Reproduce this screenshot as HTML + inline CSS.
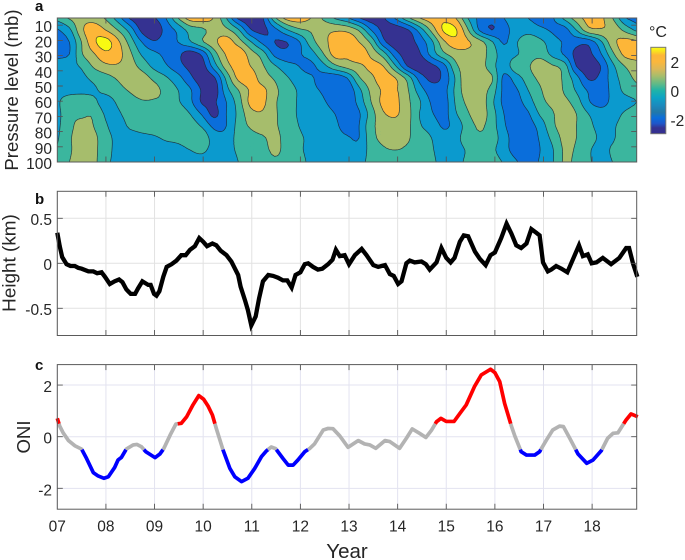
<!DOCTYPE html>
<html>
<head>
<meta charset="utf-8">
<style>
html,body{margin:0;padding:0;background:#fff;}
svg{display:block;font-family:"Liberation Sans",Arial,sans-serif;}
</style>
</head>
<body>
<svg id="figure" width="685" height="560" viewBox="0 0 685 560" xmlns="http://www.w3.org/2000/svg">
<defs>
<clipPath id="field-clip"><rect x="57.3" y="18" width="579.4" height="144"/></clipPath>
<linearGradient id="cbar-gradient" x1="0" y1="1" x2="0" y2="0"></linearGradient>
</defs>
<text x="35" y="11" font-size="15" font-weight="bold" fill="#111">a</text>
<text x="35" y="204" font-size="15" font-weight="bold" fill="#111">b</text>
<text x="35" y="370" font-size="15" font-weight="bold" fill="#111">c</text>
<text transform="translate(18,90) rotate(-90)" text-anchor="middle" font-size="18.6" fill="#262626">Pressure level (mb)</text>
<text transform="translate(15.5,263) rotate(-90)" text-anchor="middle" font-size="18.9" fill="#262626">Height (km)</text>
<text transform="translate(30,437) rotate(-90)" text-anchor="middle" font-size="18.6" fill="#262626">ONI</text>
<text x="347" y="558" text-anchor="middle" font-size="20.5" fill="#262626">Year</text>
<text x="649" y="37" font-size="16" fill="#262626">°C</text>
</svg>
<script>
// ---------- Chart data ----------
const yearTicks = [0,1,2,3,4,5,6,7,8,9,10,11];
const yearTickLabels = ['07','08','09','10','11','12','13','14','15','16','17','18'];
const pressureTicks = [10,20,30,40,50,60,70,80,90,100];
const heightTicks = [0.5,0,-0.5];
const heightTickLabels = ['0.5','0','-0.5'];
const oniTicks = [2,0,-2];
const oniTickLabels = ['2','0','-2'];
const colorbarTicks = [2,0,-2];
const colorbarTickLabels = ['2','0','-2'];

const contourLevels = [-2.0,-1.2,-0.4,0.4,1.2,2.0];
const bandColors = ['#353291','#0a6edb','#0b9ace','#3bb69e','#a6bd6c','#fdb638','#f8fa12'];
const colorbarValues = [-3,-2.6,-2.3,-1.9,-1.5,-1,-0.5,0,0.5,1,1.5,2,2.45,2.75,3];
const colorbarColors = ['#352f91','#353391','#1f55c8','#0a6edb','#2278a8','#1a8bbf','#0ca3c5','#1fb3a8','#65ba85','#a6bd6c','#dcb858','#fbb73c','#fdb638','#f9e51c','#f9fb15'];

// Temperature anomaly field, tenths of a degree C. One row per pressure, 49 columns over the time axis.
const fieldPressures = [5.3,13.2,21.1,29,36.9,44.7,52.6,60.5,68.4,76.3,84.2,92.1,100];
const fieldTenths = [
[-1,5,9,8,3,-8,-21,-26,-21,-12,4,16,17,11,-4,-22,-26,-21,2,15,17,12,3,-5,-11,-20,-25,-21,-11,2,12,17,18,12,-4,-14,-17,-12,-8,-12,-16,-13,-2,8,15,14,4,-11,-16],
[-13,-6,10,17,12,4,-7,-22,-26,-17,-10,-1,2,8,6,-3,-19,-22,-15,-5,2,5,9,11,10,3,-12,-22,-25,-21,-9,6,21,21,5,-13,-20,-15,-9,-7,-10,-13,-15,-4,9,11,10,2,-6],
[-15,-12,4,18,23,14,1,-12,-19,-15,-12,-5,3,10,16,8,-3,-14,-20,-20,-13,0,9,15,17,12,2,-17,-25,-24,-17,-6,10,17,13,7,-3,-13,-5,1,-2,-8,-13,-17,-17,-6,9,15,14],
[-14,-12,3,11,18,15,6,-5,-10,-14,-18,-24,-18,0,13,18,8,0,-14,-17,-13,-8,3,15,14,17,10,0,-16,-24,-21,-9,2,8,10,8,0,-8,-5,0,1,-6,-13,-22,-22,-13,2,14,15],
[-9,-6,-3,5,10,11,8,1,-6,-11,-17,-22,-23,-8,8,16,12,5,-3,-9,-12,-14,-7,2,7,10,14,12,-3,-20,-25,-22,-15,2,8,8,-1,-8,1,3,9,5,0,-20,-24,-20,-6,4,9],
[-9,-8,-6,-2,1,5,9,8,2,-3,-9,-18,-24,-21,-2,14,16,8,3,-3,-8,-11,-15,-17,-12,3,10,16,12,1,-15,-22,-18,-3,11,9,5,-14,-8,0,6,9,2,-9,-21,-18,-8,0,6],
[-8,-8,-7,-5,-2,1,5,9,7,1,-4,-11,-21,-24,-7,4,13,14,6,0,-5,-10,-13,-17,-18,-6,6,13,13,5,-8,-16,-15,-2,9,8,1,-14,-13,-4,3,9,3,-5,-13,-15,-10,-2,1],
[-6,2,3,-2,-7,-3,0,3,3,2,-3,-10,-21,-21,-12,0,14,14,5,1,-5,-8,-11,-15,-18,-9,4,14,14,6,-3,-13,-16,-3,6,9,-2,-14,-15,-8,1,6,6,0,-11,-15,-10,-7,-4],
[-7,2,3,3,-5,-5,-1,1,2,2,1,-4,-13,-22,-12,-2,9,11,5,1,-5,-7,-9,-12,-17,-13,0,11,13,7,-4,-11,-15,-5,3,8,0,-12,-16,-13,-3,3,8,4,-4,-8,-7,-3,1],
[-6,2,6,4,-3,-7,-3,-1,0,0,1,0,-5,-14,-12,-1,5,8,5,1,-4,-6,-8,-10,-16,-12,2,6,9,6,-3,-7,-13,-9,0,5,0,-11,-15,-15,-9,2,7,4,-2,-6,-5,-1,2],
[-5,3,7,6,-1,-6,-7,-6,-5,-3,-2,0,1,-8,-9,-1,1,3,6,1,-3,-5,-6,-8,-11,-12,1,6,8,5,0,-4,-9,-7,1,3,1,-9,-15,-16,-11,-2,6,4,-1,-5,-5,1,3],
[-3,3,7,6,-1,-6,-7,-7,-7,-7,-6,-4,-3,-6,-6,-3,0,2,5,2,-3,-5,-6,-8,-9,-9,-1,3,4,3,1,-3,-8,-7,-3,1,-2,-9,-15,-17,-12,-5,5,3,-3,-6,-3,2,3],
[-2,4,7,6,-2,-6,-7,-7,-7,-7,-6,-6,-6,-7,-7,-4,-1,1,3,2,-2,-5,-6,-7,-8,-7,-1,2,3,3,1,-2,-7,-7,-2,1,1,-5,-11,-16,-11,-5,5,2,-3,-6,-4,1,3]
];

const heightYears = [0,.05,.10,.19,.27,.36,.43,.50,.64,.74,.82,.91,.98,1.08,1.18,1.27,1.34,1.42,1.51,1.60,1.66,1.75,1.87,1.92,1.99,2.04,2.10,2.18,2.25,2.35,2.45,2.55,2.64,2.73,2.83,2.92,3.00,3.08,3.19,3.27,3.36,3.48,3.58,3.72,3.77,3.86,3.92,3.99,4.08,4.15,4.23,4.34,4.44,4.54,4.64,4.73,4.82,4.90,5.00,5.09,5.16,5.26,5.36,5.45,5.57,5.66,5.73,5.81,5.91,6.00,6.12,6.26,6.36,6.50,6.60,6.74,6.84,6.92,7.01,7.08,7.18,7.25,7.35,7.49,7.58,7.66,7.80,7.90,8.00,8.09,8.17,8.28,8.36,8.45,8.59,8.69,8.81,8.91,9.00,9.13,9.24,9.34,9.44,9.54,9.65,9.75,9.85,9.92,9.99,10.09,10.16,10.26,10.37,10.49,10.57,10.73,10.81,10.91,10.99,11.09,11.22,11.39,11.56,11.70,11.76,11.84,11.93];
const heightKm = [.34,.19,.07,-.01,-.03,-.03,-.05,-.06,-.09,-.09,-.11,-.10,-.15,-.23,-.20,-.18,-.21,-.29,-.34,-.34,-.28,-.20,-.24,-.24,-.34,-.36,-.31,-.15,-.04,-.01,.03,.09,.09,.15,.19,.28,.24,.19,.22,.20,.14,.09,.02,-.13,-.26,-.41,-.52,-.69,-.59,-.39,-.20,-.13,-.14,-.16,-.19,-.19,-.27,-.13,-.10,-.01,0,-.04,-.07,-.06,-.01,.04,.15,.08,.09,-.01,.09,.16,.09,-.02,-.04,-.02,-.12,-.14,-.23,-.20,0,.03,.01,.02,-.01,-.07,.01,.17,.06,.01,.06,.24,.31,.30,.13,.05,-.02,.09,.12,.28,.44,.33,.20,.17,.22,.38,.34,.31,.01,-.09,-.07,-.03,-.06,-.10,0,.20,.08,.10,0,.01,.06,-.01,.06,.17,.17,0,-.15];

const oniYears = [0,.05,.12,.23,.36,.50,.59,.74,.84,.96,1.05,1.18,1.25,1.32,1.42,1.56,1.64,1.73,1.82,2.01,2.11,2.19,2.32,2.44,2.55,2.66,2.79,2.91,3.01,3.10,3.19,3.27,3.41,3.55,3.65,3.79,3.92,4.06,4.20,4.30,4.40,4.49,4.64,4.75,4.85,4.95,5.09,5.19,5.29,5.47,5.57,5.67,5.81,5.98,6.19,6.32,6.43,6.55,6.74,6.84,7.04,7.18,7.30,7.45,7.58,7.70,7.80,7.89,8.00,8.16,8.28,8.41,8.58,8.72,8.91,9.00,9.10,9.20,9.34,9.41,9.54,9.65,9.82,9.92,10.06,10.19,10.33,10.41,10.54,10.71,10.89,11.02,11.19,11.32,11.43,11.53,11.70,11.80,11.94];
const oniValues = [.71,.41,.15,-.15,-.35,-.48,-.80,-1.39,-1.52,-1.61,-1.55,-1.19,-.90,-.80,-.48,-.32,-.30,-.39,-.58,-.81,-.67,-.46,.06,.49,.52,.77,1.23,1.59,1.45,1.19,.84,.32,-.52,-1.23,-1.55,-1.74,-1.61,-1.23,-.77,-.55,-.40,-.46,-.84,-1.10,-1.10,-.90,-.58,-.46,-.28,.26,.32,.31,.03,-.41,-.15,-.28,-.32,-.45,-.15,-.19,-.45,-.06,.30,.13,-.03,.26,.58,.71,.59,.59,.90,1.23,1.94,2.39,2.61,2.48,2.13,1.29,.41,.03,-.58,-.71,-.71,-.58,-.13,.26,.41,.39,-.06,-.67,-1.03,-.90,-.54,-.06,.13,.15,.65,.88,.77];
const oniThreshold = 0.5;
const timeSpanYears = 11.917;

// ---------- Axis functions ----------
const plotLeft = 57.3, plotWidth = 579.4, plotRight = plotLeft + plotWidth;
function xYear(t){ return plotLeft + t / timeSpanYears * plotWidth; }
function yPressure(p){ return 162 - (100 - p) * 1.52; }
function yHeight(v){ return 263.3 - v * 90; }
function yOni(v){ return 436.7 - v * 25.83; }
function yColorbar(v){ return 90.5 - v * 14.4; }

// ---------- Helpers ----------
const NS = 'http://www.w3.org/2000/svg';
const fig = document.getElementById('figure');
function mk(tag, attrs, parent, text){
  const e = document.createElementNS(NS, tag);
  for (const k in attrs) e.setAttribute(k, attrs[k]);
  if (text !== undefined) e.textContent = text;
  (parent || fig).appendChild(e);
  return e;
}
const f2 = n => n.toFixed(2);

// ---------- Panel a: contour field ----------
function catmull(p0,p1,p2,p3,t){
  return 0.5*((2*p1)+(-p0+p2)*t+(2*p0-5*p1+4*p2-p3)*t*t+(-p0+3*p1-3*p2+p3)*t*t*t);
}
function upsample(arr, factor){
  const out = [], n = arr.length;
  for (let i = 0; i < n-1; i++){
    const a = arr[Math.max(i-1,0)], b = arr[i], c = arr[i+1], d = arr[Math.min(i+2,n-1)];
    for (let s = 0; s < factor; s++) out.push(catmull(a,b,c,d,s/factor));
  }
  out.push(arr[n-1]);
  return out;
}
function refineField(rows, factor){
  const xRows = rows.map(r => upsample(r.map(v => v/10), factor));
  const nCols = xRows[0].length, columns = [];
  for (let c = 0; c < nCols; c++) columns.push(upsample(xRows.map(r => r[c]), factor));
  const res = [];
  for (let r = 0; r < columns[0].length; r++) res.push(columns.map(col => col[r]));
  return res;
}
const refineFactor = 4;
const fineField = refineField(fieldTenths, refineFactor);
const fineXs = upsample(fieldTenths[0].map((_, i) => xYear(i / (fieldTenths[0].length - 1) * timeSpanYears)), refineFactor);
const fineYs = upsample(fieldPressures.map(yPressure), refineFactor);

function clipTriangle(tri, level){
  const poly = [];
  for (let i = 0; i < 3; i++){
    const a = tri[i], b = tri[(i+1)%3];
    if (a[2] >= level) poly.push(a);
    if ((a[2] >= level) !== (b[2] >= level)){
      const f = (level - a[2]) / (b[2] - a[2]);
      poly.push([a[0]+(b[0]-a[0])*f, a[1]+(b[1]-a[1])*f, level]);
    }
  }
  return poly;
}
function contourSegments(tri, level){
  const pts = [];
  for (let i = 0; i < 3; i++){
    const a = tri[i], b = tri[(i+1)%3];
    if ((a[2] >= level) !== (b[2] >= level)){
      const f = (level - a[2]) / (b[2] - a[2]);
      pts.push([a[0]+(b[0]-a[0])*f, a[1]+(b[1]-a[1])*f]);
    }
  }
  return pts.length === 2 ? 'M'+f2(pts[0][0])+' '+f2(pts[0][1])+'L'+f2(pts[1][0])+' '+f2(pts[1][1]) : '';
}
const fieldGroup = mk('g', {'clip-path':'url(#field-clip)'});


const baseBand = mk('rect', {x:plotLeft, y:18, width:plotWidth, height:144, fill:bandColors[0]}, fieldGroup);


contourLevels.forEach(function(level, li){
  let d = '', lines = '';
  for (let r = 0; r < fineField.length-1; r++){
    for (let c = 0; c < fineField[0].length-1; c++){
      const A = [fineXs[c],fineYs[r],fineField[r][c]];
      const B = [fineXs[c+1],fineYs[r],fineField[r][c+1]];
      const C = [fineXs[c+1],fineYs[r+1],fineField[r+1][c+1]];
      const D = [fineXs[c],fineYs[r+1],fineField[r+1][c]];
      [[A,B,C],[A,C,D]].forEach(function(tri){
        const poly = clipTriangle(tri, level);
        if (poly.length >= 3){
          d += 'M' + poly.map(p => f2(p[0])+' '+f2(p[1])).join('L') + 'Z';
        }
        lines += contourSegments(tri, level);
      });
    }
  }
  const band = mk('path', {d:d, fill:bandColors[li+1]}, fieldGroup);
  
  
  band.dataset.line = lines;
});
Array.from(fieldGroup.querySelectorAll('path')).forEach(function(band){
  const line = mk('path', {d:band.dataset.line, fill:'none', stroke:'#1c2430', 'stroke-width':0.7, 'stroke-opacity':0.85}, fieldGroup);
  
  
  delete band.dataset.line;
});

// ---------- Axes, grids and ticks ----------
function drawGrid(name, top, bottom, yTickPositions, gridColor){
  const g = mk('g', {});
  
  
  yearTicks.forEach(function(t){
    const l = mk('line', {x1:xYear(t), x2:xYear(t), y1:top, y2:bottom, stroke:gridColor, 'stroke-width':1}, g);
    
    
  });
  yTickPositions.forEach(function(y){
    const l = mk('line', {x1:plotLeft, x2:plotRight, y1:y, y2:y, stroke:gridColor, 'stroke-width':1}, g);
    
    
  });
}
function drawFrame(name, top, bottom, yTickPositions, yLabels, labelShift){
  const g = mk('g', {});
  
  
  const tickLen = 5.5;
  let d = '';
  yearTicks.forEach(function(t){
    const x = f2(xYear(t));
    if (t > 0) d += 'M'+x+' '+top+'V'+(top+tickLen)+'M'+x+' '+bottom+'V'+(bottom-tickLen);
  });
  yTickPositions.forEach(function(y){
    d += 'M'+plotLeft+' '+f2(y)+'H'+(plotLeft+tickLen)+'M'+plotRight+' '+f2(y)+'H'+(plotRight-tickLen);
  });
  const ticks = mk('path', {d:d, fill:'none', stroke:'#555', 'stroke-width':0.9}, g);
  
  
  const box = mk('rect', {x:plotLeft, y:top, width:plotWidth, height:bottom-top, fill:'none', stroke:'#5a5a5a', 'stroke-width':1}, g);
  
  
  yLabels.forEach(function(lab, i){
    const tx = mk('text', {x:52, y:yTickPositions[i]+labelShift, 'text-anchor':'end', 'font-size':15.5, fill:'#262626'}, g, lab);
    
    
  });
}

drawGrid('panel-b', 191.3, 335.5, heightTicks.map(yHeight), '#e2e2e2');
drawGrid('panel-c', 364.6, 509.2, oniTicks.map(yOni), '#e3e3f0');

// ---------- Panel b line ----------
const heightLine = mk('polyline', {
  points: heightYears.map((t,i) => f2(xYear(t))+','+f2(yHeight(heightKm[i]))).join(' '),
  fill:'none', stroke:'#000', 'stroke-width':4.3, 'stroke-linejoin':'miter', 'stroke-miterlimit':4
});



// ---------- Panel c ONI segments ----------
function oniClass(v){ return v >= oniThreshold ? 'warm' : (v <= -oniThreshold ? 'cool' : 'neutral'); }
const oniPalette = {warm:'#ff0000', cool:'#0000ff', neutral:'#b3b3b3'};
const oniRuns = [];
(function(){
  let run = {cls:oniClass(oniValues[0]), pts:[[oniYears[0],oniValues[0]]]};
  for (let i = 1; i < oniValues.length; i++){
    let prevT = oniYears[i-1], prevV = oniValues[i-1];
    const curT = oniYears[i], curV = oniValues[i];
    const bounds = [oniThreshold, -oniThreshold].filter(b => (prevV-b)*(curV-b) < 0);
    bounds.sort((a,b) => Math.abs(a-prevV) - Math.abs(b-prevV));
    bounds.forEach(function(b){
      const f = (b-prevV)/(curV-prevV);
      const t = prevT+(curT-prevT)*f;
      run.pts.push([t,b]);
      oniRuns.push(run);
      run = {cls:null, pts:[[t,b]]};
    });
    if (run.cls === null) run.cls = oniClass(curV);
    run.pts.push([curT,curV]);
  }
  oniRuns.push(run);
})();
const oniGroup = mk('g', {});


oniRuns.forEach(function(run){
  const seg = mk('polyline', {
    points: run.pts.map(p => f2(xYear(p[0]))+','+f2(yOni(p[1]))).join(' '),
    fill:'none', stroke:oniPalette[run.cls], 'stroke-width':3.7, 'stroke-linejoin':'round'
  }, oniGroup);
  
  
});

// ---------- Frames and labels on top ----------
drawFrame('panel-a', 18, 162, pressureTicks.map(yPressure), pressureTicks.map(String), 7);
drawFrame('panel-b', 191.3, 335.5, heightTicks.map(yHeight), heightTickLabels, 6.5);
drawFrame('panel-c', 364.6, 509.2, oniTicks.map(yOni), oniTickLabels, 7);

yearTicks.forEach(function(t, i){
  const tx = mk('text', {x:xYear(t), y:531.5, 'text-anchor':'middle', 'font-size':15.5, fill:'#262626'}, fig, yearTickLabels[i]);
  
  
});

// ---------- Colorbar ----------
const grad = document.getElementById('cbar-gradient');
colorbarValues.forEach(function(v, i){
  mk('stop', {offset:((v+3)/6).toFixed(3), 'stop-color':colorbarColors[i]}, grad);
});
const cbar = mk('rect', {x:650.8, y:yColorbar(3), width:15, height:yColorbar(-3)-yColorbar(3), fill:'url(#cbar-gradient)', stroke:'#777', 'stroke-width':1});


colorbarTicks.forEach(function(v, i){
  const tx = mk('text', {x:670.5, y:yColorbar(v)+6.5, 'font-size':15.5, fill:'#262626'}, fig, colorbarTickLabels[i]);
  
  
});
</script>
</body>
</html>
